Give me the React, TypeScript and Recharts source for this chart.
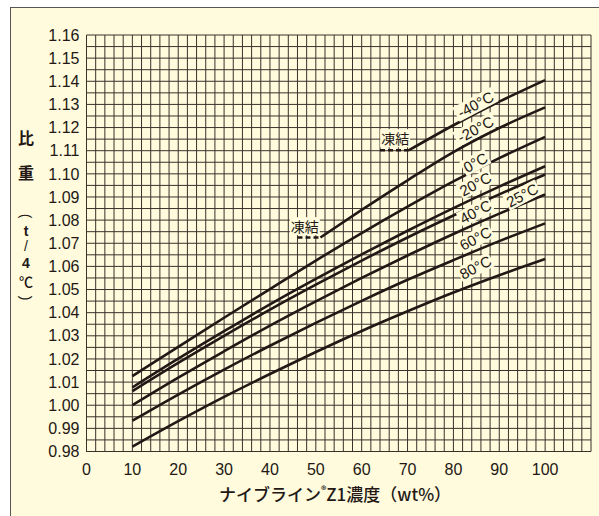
import { LineChart, Line, XAxis, YAxis, CartesianGrid, ReferenceDot } from "recharts";

// concentration (wt%) on x, specific gravity (t/4℃) on y
const conc = [10, 20, 30, 40, 50, 60, 70, 80, 90, 100];
const sg0 = [1.0126, 1.0252, 1.0378, 1.0502, 1.0625, 1.0744, 1.0858, 1.0967, 1.1068, 1.116];
const sg20 = [1.0077, 1.0201, 1.032, 1.0436, 1.0546, 1.0652, 1.0754, 1.0852, 1.0945, 1.1033];
const sg25 = [1.0061, 1.0183, 1.03, 1.0413, 1.0521, 1.0625, 1.0725, 1.082, 1.0911, 1.0997];
const sg40 = [1.0, 1.0119, 1.0233, 1.0344, 1.0449, 1.055, 1.0647, 1.074, 1.0828, 1.0911];
const sg60 = [0.9933, 1.0046, 1.0154, 1.0257, 1.0356, 1.0451, 1.0542, 1.0627, 1.0709, 1.0786];
const sg80 = [0.9821, 0.9931, 1.0036, 1.0135, 1.023, 1.0321, 1.0406, 1.0487, 1.0562, 1.0632];

const concM20 = [51, 60, 70, 80, 90, 100];
const sgM20 = [1.0725, 1.0844, 1.0972, 1.1094, 1.1198, 1.1287];
const concM40 = [70.3, 80, 90, 100];
const sgM40 = [1.1102, 1.121, 1.1312, 1.1405];

// freezing (凍結) segments
const freezeM20 = { x: [46, 51], y: 1.0725 };
const freezeM40 = { x: [64, 70.3], y: 1.1102 };

const xTickLabels = [0, 10, 20, 30, 40, 50, 60, 70, 80, 90, 100];
const yTickLabels = ["0.98", "0.99", "1.00", "1.01", "1.02", "1.03", "1.04", "1.05", "1.06", "1.07", "1.08", "1.09", "1.10", "1.11", "1.12", "1.13", "1.14", "1.15", "1.16"];

const curveLabels = [
  { text: "-40°C", x: 84.8, y: 1.13 },
  { text: "-20°C", x: 84.8, y: 1.1193 },
  { text: "0°C", x: 84.8, y: 1.1049 },
  { text: "20°C", x: 84.8, y: 1.0956 },
  { text: "25°C", x: 95.0, y: 1.0908 },
  { text: "40°C", x: 84.8, y: 1.0836 },
  { text: "60°C", x: 84.8, y: 1.0721 },
  { text: "80°C", x: 84.8, y: 1.0596 },
];
const freezeLabels = [
  { text: "凍結", x: 67.3, y: 1.1154 },
  { text: "凍結", x: 47.6, y: 1.0774 },
];

const toPts = (xs: number[], ys: number[]) => xs.map((x, i) => ({ x, y: ys[i] }));
const series = [
  toPts(conc, sg0),
  toPts(conc, sg20),
  toPts(conc, sg25),
  toPts(conc, sg40),
  toPts(conc, sg60),
  toPts(conc, sg80),
  toPts(concM20, sgM20),
  toPts(concM40, sgM40),
];
const freezeSeries = [freezeM20, freezeM40].map((f) => f.x.map((x) => ({ x, y: f.y })));

const xGrid = Array.from({ length: 56 }, (_, i) => i * 2);
const yGrid = Array.from({ length: 37 }, (_, i) => Math.round((0.98 + i * 0.005) * 1000) / 1000);

const CREAM = "#fffbdc";
const INK = "#231815";
const GRID = "#3a312b";

const CurveLabel = (props: any) => {
  const { cx, cy, text } = props;
  const w = text.length * 8 + 4;
  return (
    <g transform={`translate(${cx},${cy}) rotate(-28)`}>
      <rect x={-w / 2} y={-8} width={w} height={16} fill={CREAM} />
      <text x={0} y={0} textAnchor="middle" dominantBaseline="central" fontSize={15} fill={INK} fontFamily="Liberation Sans, Arial, sans-serif">
        {text}
      </text>
    </g>
  );
};

const FreezeLabel = (props: any) => {
  const { cx, cy, text } = props;
  return (
    <g>
      <rect x={cx - 15} y={cy - 9} width={30} height={18} fill={CREAM} />
      <text x={cx} y={cy} textAnchor="middle" dominantBaseline="central" fontSize={14} fill={INK} fontFamily="Noto Sans CJK JP">
        {text}
      </text>
    </g>
  );
};

export default function App() {
  const tickStyle = { fill: INK, fontSize: 16, fontFamily: "Liberation Sans, Arial, sans-serif" };
  const jp: React.CSSProperties = { position: "absolute", fontFamily: "Noto Sans CJK JP", fontSize: 16, color: INK, fontWeight: 700, lineHeight: 1, width: 16, textAlign: "center" };
  const small: React.CSSProperties = { ...jp, fontFamily: "Liberation Sans, Arial, sans-serif", fontWeight: 700, fontSize: 14, height: 14 };
  return (
    <div style={{ position: "absolute", left: 0, top: 0, width: 599, height: 516, background: "#fff", overflow: "hidden" }}>
      <div style={{ position: "absolute", left: 10, top: 7, width: 600, height: 520, background: CREAM, borderLeft: "1.5px solid #555", borderTop: "1.5px solid #555" }} />
      <div style={{ position: "absolute", left: 0, top: 0 }}>
        <LineChart width={599} height={516} margin={{ top: 35, right: 8, left: 0, bottom: 34.5 }}>
          <CartesianGrid stroke={GRID} strokeWidth={1} />
          <XAxis
            type="number"
            dataKey="x"
            domain={[0, 110]}
            ticks={xGrid}
            interval={0}
            height={30}
            tickFormatter={(v: number) => (xTickLabels.includes(v) ? String(v) : "")}
            tickLine={false}
            tickSize={10}
            axisLine={{ stroke: GRID }}
            tick={tickStyle}
            allowDataOverflow
          />
          <YAxis
            type="number"
            domain={[0.98, 1.16]}
            ticks={yGrid}
            interval={0}
            width={86.5}
            tickFormatter={(v: number) => {
              const s = v.toFixed(2);
              return Math.abs(v - Number(s)) < 1e-6 && yTickLabels.includes(s) ? s : "";
            }}
            tickLine={false}
            tickSize={5}
            axisLine={{ stroke: GRID }}
            tick={tickStyle}
            allowDataOverflow
          />
          {freezeSeries.map((d, i) => (
            <Line key={"f" + i} data={d} dataKey="y" type="linear" stroke={INK} strokeWidth={2.5} strokeDasharray="5 3" dot={false} isAnimationActive={false} />
          ))}
          {series.map((d, i) => (
            <Line key={"s" + i} data={d} dataKey="y" type="monotone" stroke={INK} strokeWidth={2.6} dot={false} isAnimationActive={false} />
          ))}
          {curveLabels.map((l) => (
            <ReferenceDot key={l.text} x={l.x} y={l.y} r={1} shape={(p: any) => <CurveLabel {...p} text={l.text} />} />
          ))}
          {freezeLabels.map((l, i) => (
            <ReferenceDot key={"fl" + i} x={l.x} y={l.y} r={1} shape={(p: any) => <FreezeLabel {...p} text={l.text} />} />
          ))}
        </LineChart>
      </div>
      <div style={{ ...jp, left: 18, top: 129 }}>比</div>
      <div style={{ ...jp, left: 18, top: 164 }}>重</div>
      <div style={{ ...small, left: 18, top: 209, fontWeight: 400, transform: "rotate(90deg)" }}>(</div>
      <div style={{ ...small, left: 18, top: 224 }}>t</div>
      <div style={{ ...small, left: 18, top: 239, fontWeight: 400 }}>/</div>
      <div style={{ ...small, left: 18, top: 256 }}>4</div>
      <div style={{ ...jp, left: 18, top: 274, fontSize: 14, height: 14, fontWeight: 500 }}>℃</div>
      <div style={{ ...small, left: 18, top: 291, fontWeight: 400, transform: "rotate(90deg)" }}>)</div>
      <div style={{ ...jp, left: 0, width: 670, top: 485, textAlign: "center", fontSize: 17, fontWeight: 500 }}>
        ナイブライン<sup style={{ fontSize: 11, verticalAlign: "top", position: "relative", top: -1 }}>®</sup>Z1濃度（wt%）
      </div>
    </div>
  );
}
